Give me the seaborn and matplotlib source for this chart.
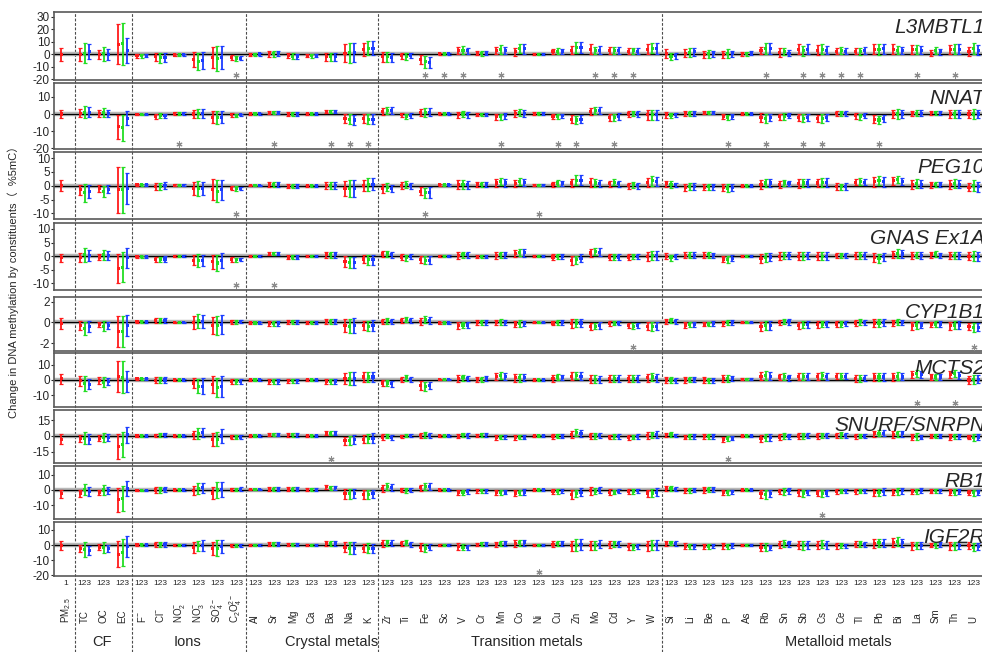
import numpy as np
import pandas as pd
import seaborn as sns
import matplotlib.pyplot as plt
from matplotlib.transforms import blended_transform_factory

# constituents along the x axis
constituents = ['PM2.5', 'TC', 'OC', 'EC',
                'F', 'Cl', 'NO2', 'NO3', 'SO4', 'C2O4',
                'Al', 'Sr', 'Mg', 'Ca', 'Ba', 'Na', 'K',
                'Zr', 'Ti', 'Fe', 'Sc', 'V', 'Cr', 'Mn', 'Co', 'Ni', 'Cu', 'Zn', 'Mo', 'Cd', 'Y', 'W',
                'Si', 'Li', 'Be', 'P', 'As', 'Rb', 'Sn', 'Sb', 'Cs', 'Ce', 'Tl', 'Pb', 'Bi', 'La', 'Sm', 'Th', 'U']
tick_names = ['PM$_{2.5}$', 'TC', 'OC', 'EC',
              'F$^{-}$', 'Cl$^{-}$', 'NO$_2^{-}$', 'NO$_3^{-}$', 'SO$_4^{2-}$', 'C$_2$O$_4^{2-}$',
              'Al', 'Sr', 'Mg', 'Ca', 'Ba', 'Na', 'K',
              'Zr', 'Ti', 'Fe', 'Sc', 'V', 'Cr', 'Mn', 'Co', 'Ni', 'Cu', 'Zn', 'Mo', 'Cd', 'Y', 'W',
              'Si', 'Li', 'Be', 'P', 'As', 'Rb', 'Sn', 'Sb', 'Cs', 'Ce', 'Tl', 'Pb', 'Bi', 'La', 'Sm', 'Th', 'U']
lag_ticks = ['1'] + ['123'] * 48
group_names = ['CF', 'Ions', 'Crystal metals', 'Transition metals', 'Metalloid metals']
genes = ['L3MBTL1', 'NNAT', 'PEG10', 'GNAS Ex1A', 'CYP1B1', 'MCTS2', 'SNURF/SNRPN', 'RB1', 'IGF2R']

# point estimates (lag 1, 2, 3) and half-width of 95% CI
L3MBTL1_est = [(0,),
    (0, 1, 2), (0, 0.5, 0), (8, 8.5, 3),
    (-1, -1, -1), (-2, -2.5, -2.5), (-0.5, -0.5, -0.3), (-4, -5.5, -5), (-2.5, -3, -2.5), (-2.5, -3, -3),
    (0, 0, 0.3), (0.5, 0.5, 0.5), (-1, -1.5, -1.5), (-1, -1, -1), (-2, -2, -2), (1, 1.5, 1.5), (4, 5, 5),
    (-2, -2, -2.5), (-1, -1.5, -0.5), (-4, -6, -6.5), (0.5, 0.5, 0.5), (3, 3.5, 3), (1, 1, 1), (3, 4, 3), (2, 4.5, 4.5),
    (0.2, 0.2, 0.2), (2, 2.5, 2), (3.5, 5.5, 5.5), (4, 3, 3.5), (3, 3, 3), (2.5, 3, 2.5), (4, 5, 4.5),
    (0.5, -1.5, -1), (1, 1.5, 2), (0, 0.5, 0.5), (0, 0.5, 0.5), (0.5, 0.5, 1), (3, 5, 5), (1.5, 2.5, 1), (4, 3, 4),
    (3.5, 4, 3.5), (2.5, 3, 2.5), (2.5, 2.5, 3), (4, 4, 4.5), (4, 3.5, 3), (4, 4, 3.5), (1, 3, 2), (4, 4, 4), (2.5, 5, 3.5)]
L3MBTL1_ci = [(5.5,),
    (5, 8, 6), (3.5, 5.7, 4.5), (16, 17, 10),
    (1.5, 1.5, 1), (3.5, 4, 3.5), (1, 1, 0.8), (6, 7, 7), (8.5, 10, 9), (1.8, 2, 1.8),
    (1.2, 1.2, 1.2), (2.5, 2.5, 2), (2, 2.5, 2), (1.3, 1.5, 1.3), (3, 3, 3), (7, 8, 7.5), (5, 5.5, 5.5),
    (4, 4, 3.5), (2.5, 3, 2), (3.5, 5, 4.5), (0.7, 0.7, 0.7), (3, 3, 2.5), (1.5, 2, 1.5), (3, 3.5, 3), (3, 3.5, 4),
    (0.6, 0.6, 0.6), (2, 2.5, 2), (3.5, 4.5, 4.5), (4, 3, 3.5), (3, 3, 3), (2.5, 2.5, 2.5), (4, 4, 4.5),
    (3.5, 3, 2.5), (3, 3.5, 3), (3, 3, 2.5), (3, 3.5, 2.5), (1.5, 1.5, 1.5), (3, 4.5, 4.5), (3.5, 3, 2.5), (4, 4, 4),
    (4, 4, 3.5), (2.5, 3, 2.5), (2.5, 3, 3), (4, 4.5, 4), (4, 3.5, 3), (3.5, 3.5, 3.5), (2.5, 3, 2.5), (3.5, 4, 4), (3.5, 4.5, 4)]

NNAT_est = [(0,),
    (0.5, 1, 1), (0.5, 1, 0.5), (-7.5, -8, -2.5),
    (-0.3, -0.3, -0.3), (-1.2, -1, -1), (0.3, 0.3, 0.3), (0, 0.3, 0.3), (-2, -2, -2), (-0.5, -0.7, -0.5),
    (0.2, 0.2, 0.2), (1, 1, 1), (0, 0, 0), (0, 0, 0), (1.5, 1.5, 1.5), (-2.5, -3, -3.5), (-2.5, -3, -3),
    (1.5, 2, 2), (-0.5, -1.5, -0.8), (1, 1, 1), (0.2, 0.2, 0.2), (-0.5, 0, -0.5), (-0.3, -0.3, -0.3), (-1.5, -1.5, -1),
    (0.5, 0.8, 0.5), (0.3, 0.3, 0.3), (-1.5, -1.5, -1), (-3, -3.5, -3), (1.5, 2, 2), (-2, -2, -1.5), (0, 0.3, 0), (-0.5, -0.5, -0.5),
    (-0.5, -1, -0.5), (0.5, 0.5, 0.5), (1, 1, 1), (-1.5, -2, -1.5), (0.2, 0.2, 0.2), (-2, -2.5, -2), (-1.5, -1.5, -1),
    (-2, -2.5, -2), (-2.5, -2.5, -2), (0.3, 0.5, 0.3), (-1, -1.5, -1), (-3, -3.5, -2.5), (0, 0, 0), (0.3, 0.5, 0.5),
    (0.8, 0.8, 0.8), (0, 0, 0), (0, 0, 0)]
NNAT_ci = [(2.4,),
    (2.5, 3.5, 3), (2, 2.5, 2), (7, 7.5, 4),
    (0.5, 0.5, 0.5), (1.5, 1.5, 1.3), (0.7, 0.7, 0.7), (2.6, 2.8, 2.8), (3.5, 4, 3.5), (1, 1, 0.8),
    (0.6, 0.6, 0.6), (1, 1, 1), (1, 1, 1), (0.8, 0.8, 0.8), (1, 1, 1), (2.5, 3, 3), (2.5, 3, 3),
    (2, 1.8, 1.8), (1, 1.5, 1.3), (2, 2.5, 2.3), (0.6, 0.6, 0.6), (1.8, 1.5, 1.8), (1, 1, 1), (1.8, 1.8, 1.7),
    (2, 2.2, 2), (0.6, 0.6, 0.6), (1.5, 1.5, 1.2), (2.5, 2.5, 2.5), (2, 2.2, 2), (2, 2, 2), (1.7, 1.5, 1.7), (2.8, 3, 3),
    (1.8, 1.5, 1.3), (1.5, 1.5, 1.5), (1, 1, 1), (1.5, 1.5, 1.3), (0.6, 0.6, 0.6), (2.5, 2.7, 2.3), (1.8, 2, 1.5),
    (2.2, 2.3, 2.2), (2.2, 2.5, 2), (1.5, 1.5, 1.5), (1.8, 1.8, 1.5), (2.3, 2.3, 2.2), (2.2, 2.7, 2.3), (1.7, 1.7, 1.7),
    (1.2, 1.2, 1.2), (2.2, 2.2, 2.2), (2.2, 2.7, 2.5)]

PEG10_est = [(0,),
    (-1.5, -2.5, -2), (-1, -2, -1.2), (-1.5, -1.5, -1),
    (0.3, 0.3, 0.3), (-0.2, -0.2, 0), (0.2, 0.2, 0.2), (-1, -1, -1), (-1.5, -2, -1.5), (-0.9, -1, -1),
    (0.1, 0.1, 0.1), (0.5, 0.5, 0.5), (-0.1, -0.1, -0.1), (0, 0, 0), (0, 0, 0.2), (-1, -1, -1), (0, 0.5, 0.5),
    (-1, -0.5, -1), (0, 0.5, 0), (-2, -2.5, -2.5), (0.3, 0.3, 0.3), (0.5, 0.5, 0.3), (0.5, 0.5, 0.5), (1, 1.5, 1),
    (0.8, 1.5, 1.2), (0.2, 0.2, 0.2), (0.5, 1, 0.8), (1, 2, 2), (1.2, 1, 0.8), (0.8, 1.2, 0.8), (0, 0.3, 0), (1.3, 1.8, 1.6),
    (0.8, 0.5, 0.3), (-0.5, -0.3, -0.3), (-0.5, -0.3, -0.3), (-0.5, -0.8, -0.5), (0, 0, 0), (0.5, 1, 1), (0.5, 1, 0.8),
    (0.8, 1, 1), (1, 1.2, 1.2), (-0.3, -0.3, -0.3), (1.3, 1.5, 1.3), (1.5, 2, 1.5), (1.8, 2.3, 1.5), (0.5, 0.8, 0.6),
    (0.3, 0.6, 0.3), (0.5, 0.8, 0.6), (-0.5, 0, -0.3)]
PEG10_ci = [(2,),
    (1.8, 3.2, 2.4), (1.2, 2, 1.5), (8.2, 8.4, 5.7),
    (0.4, 0.4, 0.4), (1.3, 1.3, 1.3), (0.4, 0.4, 0.4), (2.2, 2.8, 2.5), (3.8, 4, 3.5), (0.7, 0.8, 0.7),
    (0.3, 0.3, 0.3), (0.8, 0.8, 0.8), (0.8, 0.8, 0.8), (0.4, 0.4, 0.4), (1.2, 1.2, 1.2), (2.6, 3, 3), (2, 2.3, 2.2),
    (1.5, 1.5, 1.3), (1.2, 1.2, 1), (1.5, 1.8, 2), (0.3, 0.3, 0.3), (1.5, 1.5, 1.4), (0.8, 0.8, 0.8), (1.3, 1.3, 1.3),
    (1.2, 1.3, 1.3), (0.3, 0.3, 0.3), (1, 1, 1), (1.5, 1.8, 1.8), (1.5, 1.5, 1.4), (1.1, 1.1, 1.1), (1.1, 1.1, 1.1), (1.6, 1.8, 1.7),
    (1.1, 1.2, 0.8), (1.3, 1.3, 1.2), (1.1, 1.1, 1.1), (1.3, 1.5, 1.3), (0.4, 0.4, 0.4), (1.6, 1.6, 1.6), (1.2, 1.1, 1),
    (1.5, 1.5, 1.4), (1.4, 1.5, 1.5), (1.2, 1.1, 1.2), (1.2, 1.3, 1.2), (1.8, 1.7, 1.8), (1.5, 1.3, 1.3), (1.5, 1.5, 1.4),
    (1, 0.9, 0.9), (1.5, 1.5, 1.4), (1.5, 2, 1.8)]

GNAS_est = [(-0.5,),
    (-0.5, 0.5, 0.3), (-0.3, 0.5, 0.2), (-4.5, -4, -0.5),
    (-0.2, -0.2, -0.2), (-1.2, -1.2, -1), (0, 0, 0), (-1.5, -1.5, -1.5), (-2, -2.5, -1.5), (-1.2, -1.3, -1.2),
    (0, 0, 0), (1, 1, 1), (-0.3, -0.3, -0.3), (0, 0, 0), (0.5, 0.5, 0.5), (-2, -2.3, -2.3), (-1, -1.3, -1.3),
    (0.8, 0.8, 0.5), (-0.3, -0.5, -0.2), (-1.2, -1.5, -1.5), (0, 0, 0), (0.3, 0.5, 0.5), (0, 0, 0), (0.2, 0.5, 0.5),
    (1, 1.5, 1.3), (0, 0, 0), (-0.3, 0, 0), (-1.5, -1.3, -0.8), (1.2, 1.8, 1.5), (-0.3, -0.3, -0.3), (-0.3, 0, 0), (0, 0.3, 0.3),
    (0, -0.5, 0), (0.3, 0.3, 0.3), (0.3, 0.5, 0.3), (-1, -1.2, -0.8), (0, 0, 0), (-0.8, -0.5, -0.3), (0, 0.2, 0.2),
    (0, 0, 0.2), (0, 0, 0), (0.2, 0.2, 0.2), (0.2, 0.2, 0.3), (-0.5, -0.8, -0.2), (0.6, 1, 0.8), (0.2, 0.4, 0.2),
    (0.5, 0.8, 0.3), (0.3, 0.3, 0.3), (0, 0, 0)]
GNAS_ci = [(1.5,),
    (1.6, 2.5, 1.9), (1.2, 1.8, 1.6), (5.3, 5.6, 3.7),
    (0.4, 0.4, 0.4), (1, 1, 1), (0.4, 0.4, 0.4), (1.9, 2.3, 2), (2.6, 2.8, 2.7), (0.8, 0.8, 0.7),
    (0.4, 0.4, 0.4), (0.7, 0.7, 0.7), (0.8, 0.8, 0.8), (0.4, 0.4, 0.4), (1.2, 1.2, 1.2), (2, 2.2, 2), (1.5, 1.8, 1.8),
    (1.2, 1.2, 1.1), (1.1, 1.1, 1), (1.4, 1.5, 1.5), (0.4, 0.4, 0.4), (1.2, 1.1, 1.1), (0.5, 0.5, 0.5), (1.3, 1.2, 1.2),
    (1.4, 1.3, 1.4), (0.3, 0.3, 0.3), (1.1, 1, 1), (1.6, 1.4, 1.5), (1.3, 1.4, 1.4), (1.1, 1.1, 1.1), (1.1, 1, 1), (1.7, 1.8, 1.8),
    (1.1, 1.1, 1), (1.1, 1.1, 1.1), (1.1, 1.1, 1), (1.1, 1.2, 1.1), (0.3, 0.3, 0.3), (1.6, 1.6, 1.5), (1.4, 1.3, 1.3),
    (1.4, 1.4, 1.3), (1.4, 1.4, 1.4), (0.9, 0.9, 0.9), (1.3, 1.3, 1.2), (1.7, 1.7, 1.5), (1.4, 1.5, 1.4), (1.3, 1.2, 1.3),
    (1.1, 1.1, 0.9), (1.4, 1.4, 1.4), (1.4, 1.8, 1.6)]

CYP1B1_est = [(-0.1,),
    (-0.3, -0.6, -0.4), (-0.2, -0.35, -0.3), (-0.9, -0.85, -0.3),
    (0.05, 0.05, 0.05), (0.15, 0.15, 0.2), (0, 0, 0), (0, 0.15, 0.1), (-0.3, -0.3, -0.2), (0.05, 0.05, 0.05),
    (-0.05, -0.05, -0.05), (-0.1, -0.1, -0.1), (0.05, 0.05, 0.05), (0, 0, 0), (0.1, 0.1, 0.1), (-0.3, -0.35, -0.3), (-0.3, -0.35, -0.3),
    (0.1, 0.15, 0.1), (0.2, 0.25, 0.2), (0.1, 0.25, 0.15), (-0.05, -0.05, -0.05), (-0.3, -0.25, -0.25), (0, 0, 0),
    (0, 0.05, 0), (-0.15, -0.1, -0.1), (0, 0, 0), (-0.05, 0, 0), (-0.1, -0.05, -0.05), (-0.4, -0.35, -0.3),
    (-0.1, -0.05, -0.05), (-0.3, -0.35, -0.3), (-0.35, -0.4, -0.35),
    (0.1, 0.2, 0.1), (-0.25, -0.2, -0.2), (-0.15, -0.15, -0.1), (-0.1, 0, 0), (0, 0, 0), (-0.4, -0.3, -0.3),
    (0, 0.1, 0.05), (-0.3, -0.2, -0.2), (-0.2, -0.15, -0.15), (-0.15, -0.15, -0.1), (-0.05, 0.05, 0), (-0.05, -0.05, 0),
    (-0.05, 0.05, 0), (-0.3, -0.25, -0.25), (-0.2, -0.15, -0.15), (-0.3, -0.25, -0.25), (-0.4, -0.5, -0.45)]
CYP1B1_ci = [(0.5,),
    (0.4, 0.6, 0.5), (0.25, 0.5, 0.35), (1.5, 1.5, 1.05),
    (0.1, 0.1, 0.1), (0.25, 0.25, 0.25), (0.07, 0.07, 0.07), (0.6, 0.65, 0.6), (0.8, 0.9, 0.9), (0.18, 0.18, 0.15),
    (0.07, 0.07, 0.07), (0.2, 0.2, 0.2), (0.2, 0.2, 0.2), (0.12, 0.12, 0.12), (0.25, 0.25, 0.25), (0.6, 0.7, 0.7), (0.45, 0.5, 0.5),
    (0.25, 0.3, 0.25), (0.25, 0.25, 0.22), (0.3, 0.35, 0.33), (0.06, 0.06, 0.06), (0.3, 0.28, 0.25), (0.2, 0.2, 0.2),
    (0.25, 0.25, 0.25), (0.28, 0.3, 0.27), (0.05, 0.05, 0.05), (0.22, 0.22, 0.2), (0.4, 0.42, 0.42), (0.3, 0.3, 0.3),
    (0.25, 0.22, 0.2), (0.25, 0.3, 0.25), (0.4, 0.42, 0.4),
    (0.27, 0.25, 0.25), (0.28, 0.25, 0.25), (0.23, 0.23, 0.22), (0.25, 0.25, 0.22), (0.05, 0.05, 0.05), (0.45, 0.4, 0.4),
    (0.25, 0.25, 0.25), (0.35, 0.33, 0.33), (0.33, 0.3, 0.3), (0.25, 0.25, 0.22), (0.3, 0.28, 0.25), (0.35, 0.35, 0.33),
    (0.3, 0.28, 0.25), (0.38, 0.35, 0.33), (0.28, 0.25, 0.25), (0.38, 0.35, 0.35), (0.33, 0.45, 0.4)]

MCTS2_est = [(0.7,),
    (-0.5, -2.3, -2.7), (-0.2, -1.5, -0.9), (2.5, 1.8, -1),
    (0.8, 0.8, 0.8), (-0.3, 0, 0), (0, 0, 0), (-2, -4, -4), (-3, -5, -4.5), (-1, -1, -1),
    (0, 0, 0), (-1, -1, -0.8), (-0.5, -0.5, -0.5), (0, 0, 0), (-1, -1, -1), (1, 1, 1), (2, 2, 2),
    (-2, -2, -2.5), (0.5, 1.5, 0.5), (-3.5, -4, -3.5), (0.3, 0.3, 0.3), (1, 1.5, 1), (0.5, 0.5, 1), (2.5, 3, 2.5),
    (1.5, 1.5, 1.5), (0.2, 0.2, 0.2), (1, 2, 1.5), (2.5, 3, 2.5), (0.5, 0.5, 0.5), (1, 1, 1), (1, 1, 1), (1.5, 2, 1.5),
    (0, 0, -0.5), (0, 0.5, 0.5), (0, -0.5, -0.5), (1, 1, 1), (0.5, 0.5, 0.5), (2.5, 3, 2.5), (2, 2.5, 1.5),
    (2.5, 2.5, 2.5), (2.5, 3, 2.5), (2.5, 2.5, 2.5), (1, 1, 1.2), (2, 2, 2), (2, 2.5, 2), (3.5, 4, 3.5),
    (2, 2, 2), (3.5, 4, 3), (0, 0.5, 0.5)]
MCTS2_ci = [(3.3,),
    (3.3, 4.9, 3.4), (2.4, 3.3, 2.4), (10.2, 10.4, 7),
    (0.8, 0.8, 0.8), (2, 2, 2), (0.6, 0.6, 0.6), (3.5, 4.5, 5), (5.5, 6, 7), (1.6, 1.6, 1.5),
    (0.6, 0.6, 0.6), (1.6, 1.6, 1.6), (1.3, 1.3, 1.3), (0.7, 0.7, 0.7), (1.8, 1.8, 1.8), (3.5, 4.5, 4.5), (3, 3.5, 3.5),
    (2, 2, 1.8), (1.5, 2, 1.5), (3, 3, 2.5), (0.6, 0.6, 0.6), (2.2, 2, 1.8), (1.5, 1.5, 1.5), (2.2, 2.2, 2.2),
    (2.5, 2.5, 2.3), (0.6, 0.6, 0.6), (2, 2, 1.8), (2.7, 2.5, 2.5), (2.5, 2.5, 2.3), (2, 2, 2), (2, 2, 2), (2.6, 2.8, 2.6),
    (1.8, 1.8, 1.5), (1.8, 1.6, 1.6), (1.8, 1.5, 1.5), (2, 2, 1.8), (0.8, 0.8, 0.8), (2.5, 2.7, 2.5), (2, 2.4, 2),
    (2.2, 2.4, 2.2), (2.2, 2.4, 2.2), (2, 2, 1.9), (2, 2, 1.8), (2.7, 2.7, 2.5), (2.5, 2.5, 2.3), (2.5, 2.3, 2.3),
    (1.9, 1.9, 1.9), (2.5, 2.3, 2.4), (2.4, 3, 2.7)]

SNURF_est = [(-3,),
    (-2.5, -2, -3), (-2, -1.5, -1.5), (-10, -8, 1),
    (0, 0, 0), (0.5, 1, 1), (0, 0, 0), (1, 2.5, 3.5), (-3.5, -3, 0), (-1, -1, -1),
    (0, 0, 0), (1.5, 1.5, 1.5), (1, 1, 1), (0.3, 0.3, 0.3), (2.5, 2.5, 2.5), (-4.5, -4.5, -3.5), (-3, -2.5, -2),
    (-1, 0, -1.5), (-0.5, 0.5, 0.5), (0.5, 1, 0.5), (0, 0, 0), (0, 1, 0.5), (0.5, 1, 1), (-1.5, -1, -0.8),
    (-1.5, -1, -1), (0, 0, 0), (-0.5, 0, 0), (1.5, 3, 2.5), (0, 0, 0.5), (-1, -0.5, -0.5), (-1.5, -1, -0.5), (0.5, 1, 1.5),
    (1, 1.5, 0.5), (-1, -0.5, -0.5), (-0.5, -0.5, -0.5), (-3, -2.5, -2), (0, 0, 0), (-2.5, -1.5, -1.5), (-1, 0, -0.5),
    (0, 0, 0.5), (0, 0.5, 0.5), (0.5, 1, 0.5), (-0.5, 0, 0), (2, 2.5, 2.5), (1.5, 2, 2), (-1, -0.5, -1),
    (0, 0, 0), (-1, -0.5, -0.5), (-1, -1.5, -1)]
SNURF_ci = [(4.5,),
    (3.3, 5.5, 4.5), (2.7, 4, 3.5), (12, 12, 7.5),
    (1, 1, 1), (1.6, 1.8, 1.8), (0.8, 0.8, 0.8), (4, 5, 4.5), (6, 7, 6.8), (1.6, 1.6, 1.5),
    (0.8, 0.8, 0.8), (1.7, 1.7, 1.7), (1.5, 1.5, 1.5), (1, 1, 1), (2, 2, 2), (4, 4.5, 4.5), (3.5, 4, 4.5),
    (2.5, 2.2, 2), (1.8, 1.7, 1.7), (2.5, 2.5, 2.5), (0.7, 0.7, 0.7), (2.2, 2.2, 2.2), (1.7, 1.7, 1.7), (2.2, 2.3, 2.2),
    (2.2, 2.3, 2.2), (0.7, 0.7, 0.7), (2, 2.2, 1.7), (3, 3.3, 3), (2.5, 2.5, 2.2), (2.2, 2, 2), (2.2, 2, 2), (3, 3.3, 3),
    (2.2, 2, 1.7), (2.2, 2.2, 2), (2, 2, 2), (2.5, 2.2, 2.2), (0.8, 0.8, 0.8), (3.7, 3.7, 3), (2.6, 2.8, 2.2),
    (2.8, 2.5, 2.5), (2.8, 2.8, 2.5), (2.5, 2.5, 2.5), (2, 1.8, 1.8), (3, 2.8, 2.8), (3.3, 3.2, 2.8), (2.5, 3, 2.3),
    (1.8, 1.7, 1.7), (2.5, 2.8, 2.5), (2.3, 3, 2.7)]

RB1_est = [(-2.5,),
    (-2, 0.5, -1), (-1.5, 0, -0.5), (-6.5, -5.5, 1),
    (-0.3, -0.3, -0.3), (0, 0, 0.3), (0, 0, 0), (-0.5, 1, 1.5), (-2, 0, 0.5), (0.3, 0.3, 0.5),
    (0.2, 0.2, 0.2), (0.5, 0.5, 0.5), (0.5, 0.5, 0.5), (0.2, 0.2, 0.2), (2, 1.5, 1.5), (-2.5, -2.5, -2.5), (-3, -3, -2.5),
    (1, 2, 1.5), (0, -0.3, 0), (1.5, 2.5, 2), (0, 0, 0), (-1.5, -1.5, -1), (-0.5, -0.5, -0.5), (-1.5, -1.5, -1.3),
    (-2, -1.8, -1.3), (0, 0, 0), (-1, -1, -0.5), (-3, -2.5, -1.5), (-0.5, -0.8, 0), (-1.5, -1.3, -0.8), (-1, -1, -0.5), (-2, -2, -1.5),
    (0.8, 0.8, 0.5), (-0.5, -0.5, 0), (0, 0.3, 0.3), (-1.5, -1.5, -1.2), (0, 0, 0), (-2.5, -2.8, -2.3), (-1, -1, -0.5),
    (-1.5, -2, -1.5), (-2, -2.3, -2), (-1, -0.8, -0.5), (-1, -0.8, -0.5), (-1.5, -1.5, -1), (-1.5, -1, -0.5), (-1, -0.8, -0.5),
    (-0.8, -0.5, -0.5), (-1.3, -1.3, -1), (-1.5, -1.8, -1.5)]
RB1_ci = [(2.5,),
    (2.3, 3.7, 3), (1.7, 3.3, 2.2), (7.8, 8, 5),
    (0.6, 0.6, 0.6), (1.8, 1.8, 1.8), (0.5, 0.5, 0.5), (3, 3.5, 3.3), (3.8, 5.2, 5), (1.2, 1.2, 1.2),
    (0.5, 0.5, 0.5), (1.3, 1.3, 1.3), (1.2, 1.3, 1.3), (0.8, 0.8, 0.8), (1.3, 1.3, 1.3), (3.1, 3.3, 3), (2.7, 3, 2.8),
    (2.3, 2.3, 2.3), (1.5, 1.7, 1.5), (2, 2.3, 2.3), (0.5, 0.5, 0.5), (1.7, 1.5, 1.4), (1.2, 1.2, 1.2), (1.5, 1.7, 1.4),
    (2, 1.8, 1.8), (0.5, 0.5, 0.5), (1.5, 1.5, 1.4), (2.7, 2.4, 2.7), (2.6, 2.1, 2), (2, 1.5, 1.4), (1.6, 1.7, 1.4), (2.3, 2.6, 2.7),
    (1.5, 1.5, 1.2), (1.7, 1.7, 1.5), (1.7, 1.6, 1.6), (1.7, 1.7, 1.5), (0.5, 0.5, 0.5), (2.5, 2.9, 2.4), (1.7, 2.3, 2),
    (2.3, 2.3, 1.8), (2, 2.3, 2), (1.7, 1.5, 1.4), (1.7, 1.5, 1.4), (2.3, 2.3, 2), (2, 2.3, 2), (1.7, 1.7, 1.5),
    (1.4, 1.2, 1.2), (2, 2, 1.7), (1.7, 2, 1.8)]

IGF2R_est = [(0,),
    (-2.5, -3, -3.5), (-1.5, -1.5, -2), (-6, -5, -1),
    (0.3, 0.3, 0.3), (0.5, 0.3, 0.5), (0, 0, 0), (-1.5, -0.5, -0.3), (-2.5, -2, -1), (-0.5, -0.5, -0.3),
    (0, 0, 0), (0.5, 0.7, 0.7), (0.3, 0.3, 0.3), (0, 0, 0), (1, 1, 1), (-1.5, -2, -2), (-2, -2, -2),
    (1, 1.5, 1.3), (1, 1.5, 0.5), (-1.5, -2, -1.5), (0, 0, 0), (-1, -1.5, -1.5), (0.5, 0.8, 0.5), (0.5, 1, 1.3),
    (1, 1.5, 1.5), (0, 0, 0), (0.5, 1, 1), (-0.5, 0, 0.5), (0, 0, 0.5), (0.5, 0.8, 0.8), (-1, -1.3, -1), (-0.5, 0, 0.3),
    (1.2, 1.5, 1), (-0.8, -1, -0.8), (-0.8, -0.8, -0.5), (-0.5, -0.8, -0.3), (0, 0, 0), (-1.5, -1.5, -1.5), (0.5, 1, 1),
    (0, -0.3, 0.3), (0, 0.5, 0.3), (-0.5, -0.5, -0.5), (0.5, 0.8, 0.5), (1, 1.5, 1.3), (1.8, 2.2, 1.5), (-0.5, 0, 0),
    (0, 0.3, 0.3), (-0.5, -0.5, 0), (-0.5, -1.5, -1)]
IGF2R_ci = [(3,),
    (2.3, 5, 3), (2, 3.5, 2.3), (8.7, 9.2, 6.7),
    (0.6, 0.6, 0.6), (1.5, 1.7, 1.7), (0.5, 0.5, 0.5), (3.8, 3.3, 3.6), (4.3, 5.2, 4.4), (1.1, 1.1, 1.1),
    (0.5, 0.5, 0.5), (1.3, 1.5, 1.5), (1.2, 1.2, 1.2), (0.8, 0.8, 0.8), (1.5, 1.5, 1.4), (3.3, 4.1, 4.1), (2.8, 3.3, 3),
    (2.2, 1.8, 2), (1.5, 1.7, 1.7), (2.7, 2.7, 2), (0.5, 0.5, 0.5), (2.3, 2, 1.6), (1.2, 1.3, 1.3), (1.7, 1.7, 1.7),
    (2.1, 2.1, 2.1), (0.4, 0.4, 0.4), (2, 1.8, 1.7), (3.5, 3.7, 3.5), (3, 3, 2.7), (2.2, 2, 2), (2.3, 1.8, 1.4), (3.1, 3.5, 3.3),
    (1.7, 1.5, 1.5), (2.1, 1.8, 1.6), (1.6, 1.6, 1.4), (1.8, 1.6, 1.6), (0.5, 0.5, 0.5), (2.7, 2.7, 1.8), (2.5, 2.3, 2),
    (2.9, 2.7, 2.6), (2.9, 2.7, 2.6), (1.8, 1.6, 1.4), (2, 2, 1.8), (3.1, 2.8, 2.6), (2.9, 3, 2.6), (2.6, 2.3, 2.3),
    (1.6, 2, 1.5), (2.6, 2.6, 2.3), (2.3, 2.7, 2.5)]

# significant constituents (grey asterisks)
L3MBTL1_sig = ['C2O4', 'Fe', 'Sc', 'V', 'Mn', 'Mo', 'Cd', 'Y', 'Rb', 'Sb', 'Cs', 'Ce', 'Tl', 'La', 'Th']
NNAT_sig = ['NO2', 'Sr', 'Ba', 'Na', 'K', 'Mn', 'Cu', 'Zn', 'Cd', 'P', 'Rb', 'Sb', 'Cs', 'Pb']
PEG10_sig = ['C2O4', 'Fe', 'Ni']
GNAS_sig = ['C2O4', 'Sr']
CYP1B1_sig = ['Y', 'U']
MCTS2_sig = ['La', 'Th']
SNURF_sig = ['Ba', 'P']
RB1_sig = ['Cs']
IGF2R_sig = ['Ni']

panel_est = [L3MBTL1_est, NNAT_est, PEG10_est, GNAS_est, CYP1B1_est, MCTS2_est, SNURF_est, RB1_est, IGF2R_est]
panel_ci = [L3MBTL1_ci, NNAT_ci, PEG10_ci, GNAS_ci, CYP1B1_ci, MCTS2_ci, SNURF_ci, RB1_ci, IGF2R_ci]
panel_sig = [L3MBTL1_sig, NNAT_sig, PEG10_sig, GNAS_sig, CYP1B1_sig, MCTS2_sig, SNURF_sig, RB1_sig, IGF2R_sig]
panel_ylim = [(-20.5, 34), (-20.3, 18), (-12, 12.2), (-12.4, 12.2), (-2.75, 2.45),
              (-17.8, 17.8), (-26, 25), (-19, 15.7), (-20.5, 15.3)]
panel_yticks = [[-20, -10, 0, 10, 20, 30], [-20, -10, 0, 10], [-10, -5, 0, 5, 10], [-10, -5, 0, 5, 10],
                [-2, 0, 2], [-10, 0, 10], [-15, 0, 15], [-10, 0, 10], [-20, -10, 0, 10]]

# long table
rows = []
for gene, est, ci in zip(genes, panel_est, panel_ci):
    assert len(est) == len(constituents) and len(ci) == len(constituents)
    for i, (e_t, c_t) in enumerate(zip(est, ci)):
        for lag, (e, c) in enumerate(zip(e_t, c_t)):
            rows.append({'gene': gene, 'idx': i, 'lag': lag, 'est': e, 'ci': c})
df = pd.DataFrame(rows)
lag_offset = np.array([-0.24, 0.0, 0.24])
df['x'] = df['idx'] + lag_offset[df['lag']]

lag_colors = {0: '#ff1a1a', 1: '#22dd22', 2: '#1a3cff'}

sns.set_theme(style='white')
plt.rcParams['font.family'] = ['Liberation Sans', 'Noto Sans CJK SC', 'DejaVu Sans']
plt.rcParams['mathtext.fontset'] = 'custom'
plt.rcParams['mathtext.rm'] = 'Liberation Sans'
plt.rcParams['mathtext.it'] = 'Liberation Sans:italic'
plt.rcParams['axes.unicode_minus'] = False

W, H = 982, 652
fig = plt.figure(figsize=(W / 100, H / 100), dpi=100)
fig.patch.set_facecolor('white')
xlim = (-0.63, 48.5)
left, width = 54 / W, 929 / W
panel_px = [(12, 80), (83, 149), (152, 219), (223, 290), (297, 351),
            (353, 407), (410, 463), (466, 519), (522, 576)]

# background axis for the group separators and the bottom labels
ax_bg = fig.add_axes([left, 0, width, (H - 12) / H])
ax_bg.set_xlim(xlim)
ax_bg.set_ylim(0, 1)
ax_bg.axis('off')
for b in [0.5, 3.5, 9.5, 16.5, 31.5]:
    ax_bg.axvline(b, color='0.3', lw=0.8, ls=(0, (2.5, 1.5)))
tr = blended_transform_factory(ax_bg.transData, fig.transFigure)
for i, name in enumerate(tick_names):
    ax_bg.text(i, 1 - 623 / H, name, rotation=90, ha='center', va='bottom', fontsize=7, transform=tr)
for name, pos in zip(group_names, [1.9, 6.45, 14.05, 24.4, 40.85]):
    ax_bg.text(pos, 1 - 642 / H, name, ha='center', va='center', fontsize=10.5, transform=tr)

for k, gene in enumerate(genes):
    top, bot = panel_px[k]
    ax = fig.add_axes([left, 1 - bot / H, width, (bot - top) / H], facecolor='none')
    ax.set_zorder(2)
    d = df[df['gene'] == gene]
    ax.axhline(0, color='0.72', lw=3.2, zorder=1)
    ax.axhline(0, color='black', lw=0.9, zorder=2)
    for lag in range(3):
        sub = d[d['lag'] == lag]
        ax.errorbar(sub['x'], sub['est'], yerr=sub['ci'], fmt='none', ecolor=lag_colors[lag],
                    elinewidth=1.3, capsize=1.2, capthick=0.9, zorder=3)
    sns.scatterplot(data=d, x='x', y='est', hue='lag', palette=lag_colors, marker='s', s=5,
                    linewidth=0, legend=False, ax=ax, zorder=4)
    sig_x = [constituents.index(c) for c in panel_sig[k]]
    ax.scatter(sig_x, [0.08] * len(sig_x), transform=blended_transform_factory(ax.transData, ax.transAxes),
               marker=(6, 2, 0), s=14, color='0.55', linewidths=0.8, zorder=4)
    ax.set_xlim(xlim)
    ax.set_ylim(panel_ylim[k])
    ax.set_yticks(panel_yticks[k])
    ax.set_xlabel('')
    ax.set_ylabel('')
    ax.tick_params(axis='y', labelsize=8.5, length=2, width=0.8, pad=1, left=True)
    for s in ax.spines.values():
        s.set_color('0.35')
        s.set_linewidth(1.2)
    if k == len(genes) - 1:
        ax.set_xticks(range(len(constituents)))
        ax.set_xticklabels(lag_ticks, fontsize=6)
        ax.tick_params(axis='x', length=0, pad=3)
    else:
        ax.set_xticks([])
    ax.annotate(gene, xy=(1, 1), xycoords='axes fraction', xytext=(1.5, -4), textcoords='offset points',
                ha='right', va='top', fontsize=15, style='italic')

fig.text(13 / W, 1 - 279 / H, 'Change in DNA methylation by constituents（  %5mC）',
         rotation=90, ha='center', va='center', fontsize=8)

fig.savefig('out.png', dpi=100)
